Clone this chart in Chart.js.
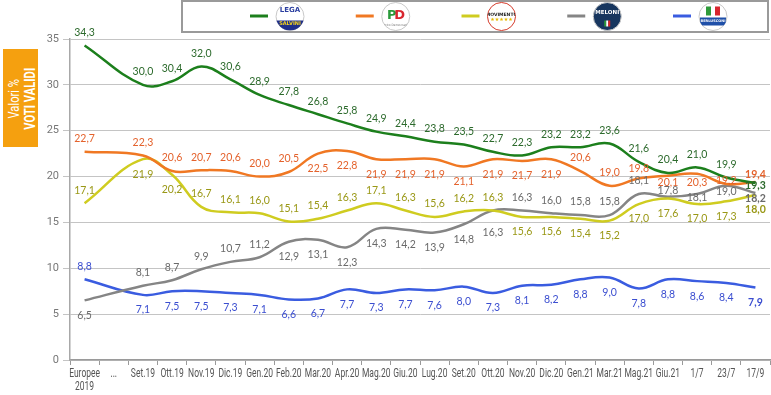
<!DOCTYPE html>
<html><head><meta charset="utf-8">
<script src="https://cdn.jsdelivr.net/npm/chart.js@4.4.0/dist/chart.umd.min.js"></script>
<style>
html,body{margin:0;padding:0;background:#fff;}
#wrap{position:relative;width:771px;height:395px;}
canvas{display:block;}
#badge{position:absolute;left:3px;top:49px;width:35px;height:98px;background:#F5A00F;}
#badge .in{position:absolute;left:-31.5px;top:31.5px;width:98px;height:35px;transform:rotate(-90deg);color:#fff;text-align:center;font-family:Roboto,sans-serif;line-height:15px;padding-top:2px;box-sizing:border-box;}
#badge .l{display:inline-block;transform:scaleX(0.8);white-space:nowrap;}
</style></head>
<body><div id="wrap"><canvas id="c" width="771" height="395"></canvas><div id="badge"><div class="in"><div><span class="l" style="font-size:14px">Valori %</span></div><div><span class="l" style="font-size:14px;font-weight:bold">VOTI VALIDI</span></div></div></div></div>
<script>
const categories = [['Europee','2019'],'...','Set.19','Ott.19','Nov.19','Dic.19','Gen.20','Feb.20','Mar.20','Apr.20','Mag.20','Giu.20','Lug.20','Set.20','Ott.20','Nov.20','Dic.20','Gen.21','Mar.21','Mag.21','Giu.21','1/7','23/7','17/9'];
const yTicks = [0,5,10,15,20,25,30,35];
const seriesNames = ['Lega','PD','M5S','FdI','FI'];
const lega = [34.3,null,30.0,30.4,32.0,30.6,28.9,27.8,26.8,25.8,24.9,24.4,23.8,23.5,22.7,22.3,23.2,23.2,23.6,21.6,20.4,21.0,19.9,19.3];
const pd   = [22.7,null,22.3,20.6,20.7,20.6,20.0,20.5,22.5,22.8,21.9,21.9,21.9,21.1,21.9,21.7,21.9,20.6,19.0,19.8,20.1,20.3,19.2,19.4];
const m5s  = [17.1,null,21.9,20.2,16.7,16.1,16.0,15.1,15.4,16.3,17.1,16.3,15.6,16.2,16.3,15.6,15.6,15.4,15.2,17.0,17.6,17.0,17.3,18.0];
const fdi  = [6.5,null,8.1,8.7,9.9,10.7,11.2,12.9,13.1,12.3,14.3,14.2,13.9,14.8,16.3,16.3,16.0,15.8,15.8,18.1,17.8,18.1,19.0,18.2];
const fi   = [8.8,null,7.1,7.5,7.5,7.3,7.1,6.6,6.7,7.7,7.3,7.7,7.6,8.0,7.3,8.1,8.2,8.8,9.0,7.8,8.8,8.6,8.4,7.9];

// label placement: 'a' above, 'b' below, number = pixel offset
const legaPos = ['a',null,'a','a','a','a','a','a','a','a','a','a','a','a','a','a','a','a','a','a','a','a','a',3];
const pdPos   = ['a',null,'a','a','a','a','a','a','b','b','b','b','b','b','b','b','b','a','a',-10,7,9,-3,-7];
const m5sPos  = ['a',null,'b','b','a','a','a','a','a','a','a','a','a','a','a','b','b','b','b','b','b','b','b','b'];
const fdiPos  = ['b',null,'a','a','a','a','a','b','b','b','b','b','b','b','22','a','a','a','a','a',-6,4,6,6];
const fiPos   = ['a',null,'b','b','b','b','b','b','b','b','b','b','b','b','b','b','b','b','b','b','b','b','b','b'];

const lineColors  = ['#1c7f1c','#f07823','#cfcc20','#858585','#3a5ce0'];
const labelColors = ['#2c6a2c','#e4622c','#9a9816','#6a6a6a','#3b4ed0'];
const allData = [lega,pd,m5s,fdi,fi];
const allPos = [legaPos,pdPos,m5sPos,fdiPos,fiPos];

const labelPlugin = {
  id:'vlabels',
  afterDatasetsDraw(chart){
    const ctx = chart.ctx;
    ctx.save();
    ctx.textAlign='center'; ctx.textBaseline='middle';
    chart.data.datasets.forEach((ds,i)=>{
      const meta = chart.getDatasetMeta(i);
      const n = ds.data.length;
      meta.data.forEach((pt,j)=>{
        const v = ds.data[j];
        if (v==null) return;
        const p = allPos[i][j];
        const dy = p==='a' ? -13 : (p==='b' ? 15 : Number(p));
        ctx.font = (j===n-1 ? 'bold ' : '') + '10.5px Lato, sans-serif';
        ctx.fillStyle = labelColors[i];
        ctx.fillText(v.toFixed(1).replace('.',','), pt.x, pt.y+dy);
      });
    });
    ctx.restore();
  }
};

const xLabelPlugin = {
  id:'xlabels',
  afterDraw(chart){
    const ctx = chart.ctx, xs = chart.scales.x;
    ctx.save();
    ctx.fillStyle='#555'; ctx.font='12.5px Roboto, sans-serif';
    ctx.textAlign='center'; ctx.textBaseline='middle';
    categories.forEach((c,i)=>{
      const x = xs.getPixelForTick(i);
      const lines = Array.isArray(c) ? c : [c];
      lines.forEach((t,k)=>{
        ctx.save();
        ctx.translate(x, 374 + k*13);
        ctx.scale(0.68,1);
        ctx.fillText(t,0,0);
        ctx.restore();
      });
    });
    ctx.restore();
  }
};

function drawLogo(ctx,cx,cy,k){
  const r=14;
  ctx.save();
  ctx.beginPath(); ctx.arc(cx,cy,r,0,Math.PI*2);
  ctx.fillStyle = k===3 ? '#17365f' : '#ffffff'; ctx.fill();
  ctx.lineWidth=1; ctx.strokeStyle = k===2 ? '#d43a2a' : '#c8c8c8'; ctx.stroke();
  ctx.clip();
  ctx.textAlign='center'; ctx.textBaseline='middle';
  if(k===0){
    ctx.fillStyle='#2b3fa0'; ctx.font='bold 7px "DejaVu Sans"'; ctx.fillText('LEGA',cx,cy-6);
    ctx.fillStyle='#1f2f8a'; ctx.fillRect(cx-14,cy+4,28,10);
    ctx.fillStyle='#f3d21c'; ctx.font='bold 5px "DejaVu Sans"'; ctx.fillText('SALVINI',cx,cy+7.5);
  } else if(k===1){
    ctx.font='bold 13px "DejaVu Sans"';
    ctx.fillStyle='#2a9a3a'; ctx.fillText('P',cx-4,cy-1);
    ctx.fillStyle='#d8262e'; ctx.fillText('D',cx+4,cy-1);
    ctx.fillStyle='#777'; ctx.font='3px "DejaVu Sans"'; ctx.fillText('Partito Democratico',cx,cy+9);
  } else if(k===2){
    ctx.fillStyle='#222'; ctx.font='bold 4.5px "DejaVu Sans"'; ctx.fillText('MOVIMENTO',cx,cy-2);
    ctx.fillStyle='#e6b800'; ctx.font='5px "DejaVu Sans"'; ctx.fillText('★★★★★',cx,cy+3.5);
  } else if(k===3){
    ctx.fillStyle='#ffffff'; ctx.font='bold 5.5px "DejaVu Sans"'; ctx.fillText('MELONI',cx,cy-4);
    ctx.fillStyle='#2f9a3a'; ctx.fillRect(cx-3,cy+4,2,6);
    ctx.fillStyle='#fff'; ctx.fillRect(cx-1,cy+4,2,6);
    ctx.fillStyle='#d22'; ctx.fillRect(cx+1,cy+4,2,6);
  } else {
    ctx.fillStyle='#2f9a3a'; ctx.fillRect(cx-7,cy-10,5,9);
    ctx.fillStyle='#ffffff'; ctx.fillRect(cx-2,cy-10,4,9);
    ctx.fillStyle='#d8262e'; ctx.fillRect(cx+2,cy-10,5,9);
    ctx.fillStyle='#1f4fa8'; ctx.fillRect(cx-13,cy+1,26,8);
    ctx.fillStyle='#ffffff'; ctx.font='bold 3.5px "DejaVu Sans"'; ctx.fillText('BERLUSCONI',cx,cy+5);
  }
  ctx.restore();
}

const legendPlugin = {
  id:'logoLegend',
  afterDraw(chart){
    const ctx = chart.ctx;
    ctx.save();
    ctx.strokeStyle='#9a9a9a'; ctx.lineWidth=2;
    ctx.strokeRect(182,1,586,31);
    const startX=250, step=105.75;
    for(let i=0;i<5;i++){
      const x = startX + i*step;
      ctx.strokeStyle=lineColors[i]; ctx.lineWidth=3;
      ctx.beginPath(); ctx.moveTo(x,16); ctx.lineTo(x+18,16); ctx.stroke();
      drawLogo(ctx, x+40, 16.5, i);
    }
    ctx.restore();
  }
};

const axisFont = {family:"Roboto, sans-serif", size:11};

new Chart(document.getElementById('c'), {
  type:'line',
  data:{
    labels: categories,
    datasets: allData.map((d,i)=>({
      label: seriesNames[i],
      data: d,
      borderColor: lineColors[i],
      backgroundColor: lineColors[i],
      borderWidth: 2.5,
      pointRadius: 0,
      tension: 0.4,
      spanGaps: true,
      fill: false
    }))
  },
  options:{
    responsive:false,
    animation:false,
    devicePixelRatio:1,
    layout:{padding:{top:39,right:1,left:0,bottom:0}},
    plugins:{legend:{display:false},tooltip:{enabled:false}},
    scales:{
      x:{
        offset:true,
        afterFit(s){ s.height = 35; },
        grid:{drawOnChartArea:false, drawTicks:true, tickLength:5, offset:true, color:'#9a9a9a', lineWidth:1},
        border:{color:'#9a9a9a', width:1.5},
        ticks:{display:false, autoSkip:false, maxRotation:0}
      },
      y:{
        min:0, max:35,
        afterFit(s){ s.width = 70; },
        afterBuildTicks(s){ s.ticks = yTicks.map(v=>({value:v})); },
        grid:{color:'#c4c4c4', borderDash:[3,2], tickLength:7, drawTicks:true},
        border:{color:'#a8a8a8', width:1.5},
        ticks:{color:'#777', font:axisFont, padding:4}
      }
    }
  },
  plugins:[labelPlugin, xLabelPlugin, legendPlugin]
});
</script>
</body></html>
